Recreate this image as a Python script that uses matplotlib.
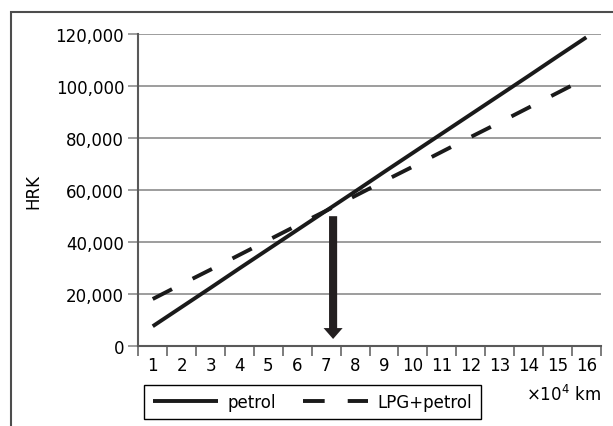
import numpy as np
import matplotlib
matplotlib.use('Agg')
import matplotlib.pyplot as plt
from matplotlib.ticker import StrMethodFormatter
from matplotlib.patches import Rectangle

plt.rcParams['font.family'] = ['DejaVu Sans']
plt.rcParams['mathtext.fontset'] = 'dejavusans'
plt.rcParams['lines.scale_dashes'] = False

# kilometres (x10^4) and cost in HRK
km = [1, 2, 3, 4, 5, 6, 7, 8, 9, 10, 11, 12, 13, 14, 15, 16]
petrol = [7600, 15000, 22400, 29900, 37300, 44700, 52100, 59500,
          67000, 74400, 81800, 89200, 96600, 104000, 111500, 118900]
lpg_petrol = [18100, 23800, 29400, 35100, 40800, 46500, 52100, 57800,
              63500, 69100, 74800, 80500, 86100, 91800, 97500, 103200]
yticks = [0, 20000, 40000, 60000, 80000, 100000, 120000]
arrow_x = 7.24
arrow_top = 50000
arrow_tip = 2700

FS = 12

fig = plt.figure(figsize=(6.13, 4.27), dpi=100)
ax = fig.add_axes([0.2256, 0.1874, 0.98 - 0.2256, 0.9169 - 0.1874])

#outer frame
fig.patches.append(Rectangle((11/613, -0.2), 1.2, 1.2 - 13/427, transform=fig.transFigure,
                             fill=False, edgecolor='#4d4d4d', linewidth=1.5))

ax.plot(km, petrol, color='#1a1a1a', linewidth=2.8, solid_capstyle='butt', label='petrol')
ax.plot(km, lpg_petrol, color='#1a1a1a', linewidth=2.8, dashes=(15.6, 16.6),
        dash_capstyle='butt', label='LPG+petrol')

ax.arrow(arrow_x, arrow_top, 0, arrow_tip - arrow_top, width=0.28, head_width=0.66,
         head_length=4200, length_includes_head=True, color='#231f20', linewidth=0)

ax.set_xlim(0.5, 16.5)
ax.set_ylim(0, 120000)
ax.set_yticks(yticks)
ax.yaxis.set_major_formatter(StrMethodFormatter('{x:,.0f}'))
ax.grid(True, axis='y', color='#8c8c8c', linewidth=1.2)
ax.set_axisbelow(True)

ax.set_xticks(np.arange(0.5, 17, 1))
ax.set_xticklabels([])
ax.set_xticks(km, minor=True)
ax.set_xticklabels([str(k) for k in km], minor=True)
ax.tick_params(axis='x', which='major', length=7, width=1.2, color='#666666')
ax.tick_params(axis='x', which='minor', length=0, pad=7.5, labelsize=FS)
ax.tick_params(axis='y', length=7.2, width=1.2, color='#8c8c8c', pad=3, labelsize=FS)

for s in ['top', 'right']:
    ax.spines[s].set_visible(False)
for s in ['left', 'bottom']:
    ax.spines[s].set_color('#595959')
    ax.spines[s].set_linewidth(1.5)

fig.text(33/613, 0.552, 'HRK', rotation=90, ha='center', va='center', fontsize=FS)
fig.text(601/613, 1 - 395/427, '×10$^4$ km', ha='right', va='center', fontsize=FS)

leg = ax.legend(loc='upper left', bbox_to_anchor=(144.3/613, 1 - 385.7/427),
                bbox_transform=fig.transFigure, ncol=2, fontsize=FS, frameon=True,
                fancybox=False, edgecolor='black', framealpha=1, borderaxespad=0,
                borderpad=0.5, handlelength=3.9, handletextpad=0.6, columnspacing=1.6)
leg.get_frame().set_linewidth(1.0)

fig.savefig('out.png', dpi=100)
